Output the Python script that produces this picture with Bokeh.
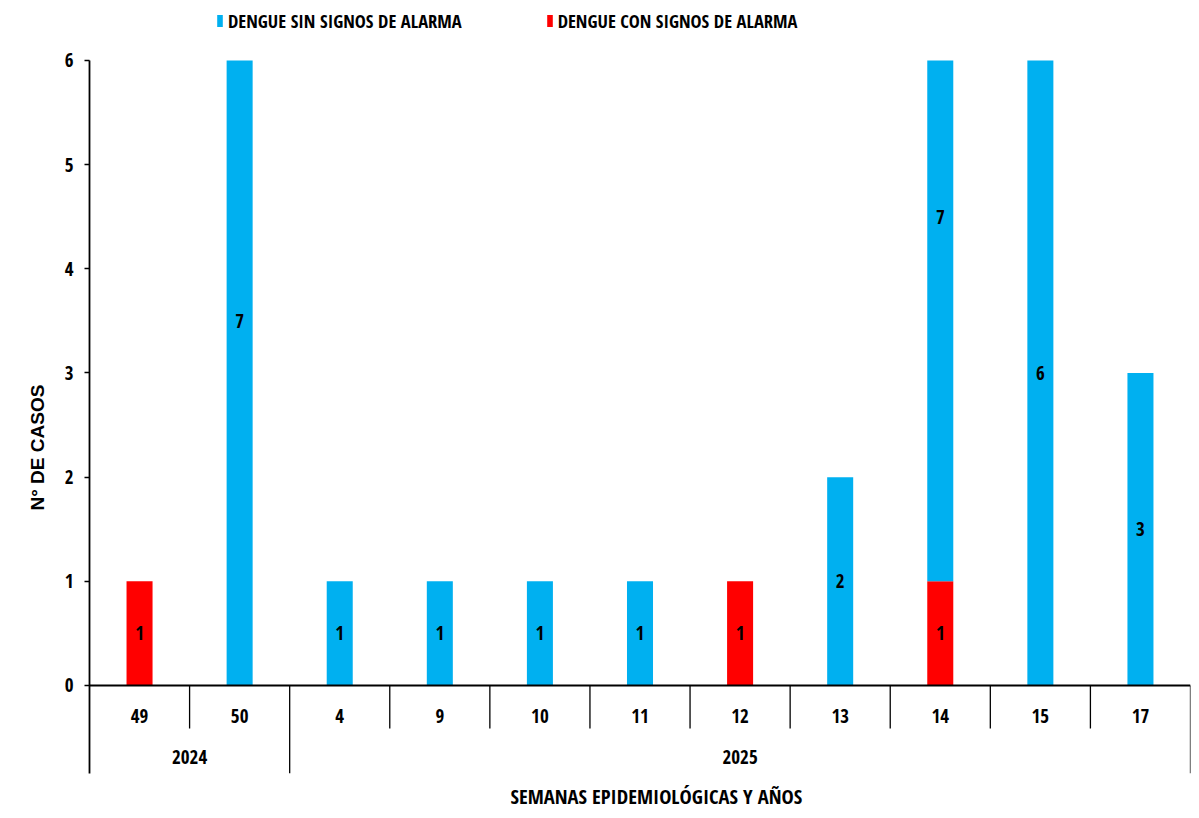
from bokeh.plotting import figure
from bokeh.models import (Range1d, FixedTicker, Legend, LegendItem, ColumnDataSource, Title)
from bokeh.core.properties import value
from bokeh.embed import file_html
from bokeh.resources import INLINE

# ---- data ----
weeks = ["49", "50", "4", "9", "10", "11", "12", "13", "14", "15", "17"]
years = ["2024", "2024", "2025", "2025", "2025", "2025", "2025", "2025", "2025", "2025", "2025"]
sin_signos = [0, 7, 1, 1, 1, 1, 0, 2, 7, 6, 3]   # DENGUE SIN SIGNOS DE ALARMA
con_signos = [1, 0, 0, 0, 0, 0, 1, 0, 1, 0, 0]   # DENGUE CON SIGNOS DE ALARMA
y_ticks = [0, 1, 2, 3, 4, 5, 6]
Y_MAX = 6   # axis maximum (bars are cut at it, as in the original)

BLUE = "#00B0F0"
RED = "#FF0000"
FONT = "Open Sans Condensed"

n = len(weeks)
x = [i + 0.5 for i in range(n)]

WEEK_ROW = -0.29
YEAR_ROW = -0.69
SHORT = -0.413
LONG = -0.845
HEADROOM = 6.528   # room above the axis for the legend

p = figure(width=1196, height=816, output_backend="svg", toolbar_location=None,
           x_range=Range1d(0, n), y_range=Range1d(LONG, HEADROOM),
           min_border_left=89, min_border_right=6, min_border_top=5, min_border_bottom=43)
p.outline_line_color = None
p.xgrid.visible = False
p.ygrid.visible = False

tops = [min(c + s, Y_MAX) for c, s in zip(con_signos, sin_signos)]
src = ColumnDataSource(dict(x=x, con=[min(c, Y_MAX) for c in con_signos],
                            base=list(con_signos), top=tops))
r_con = p.vbar(x="x", bottom=0, top="con", width=0.26, source=src,
               fill_color=RED, line_color=None)
r_sin = p.vbar(x="x", bottom="base", top="top", width=0.26, source=src,
               fill_color=BLUE, line_color=None)

# data labels (centre of each full segment)
lx, ly, lt = [], [], []
for i in range(n):
    if con_signos[i]:
        lx.append(x[i]); ly.append(con_signos[i] / 2); lt.append(str(con_signos[i]))
    if sin_signos[i]:
        lx.append(x[i]); ly.append(con_signos[i] + sin_signos[i] / 2); lt.append(str(sin_signos[i]))
p.text(x=lx, y=ly, text=lt, text_align="center", text_baseline="middle",
       text_font=value(FONT), text_font_style="bold", text_font_size="19px", text_color="black")

# baseline
p.segment(x0=[0], x1=[n], y0=[0], y1=[0], line_color="black", line_width=1.8)

# category table separators
sx0, sy0, sy1 = [], [], []
for i in range(1, n + 1):
    if i == n or years[i] != years[i - 1]:
        bottom = LONG
    else:
        bottom = SHORT
    sx0.append(i); sy0.append(0); sy1.append(bottom)
p.segment(x0=sx0, x1=sx0, y0=sy0, y1=sy1, line_color="black", line_width=1.3)

# week labels
p.text(x=x, y=[WEEK_ROW] * n, text=weeks, text_align="center", text_baseline="middle",
       text_font=value(FONT), text_font_style="bold", text_font_size="19px", text_color="black")

# year labels
yx, yt = [], []
start = 0
for i in range(1, n + 1):
    if i == n or years[i] != years[start]:
        yx.append((start + i) / 2); yt.append(years[start]); start = i
p.text(x=yx, y=[YEAR_ROW] * len(yx), text=yt, text_align="center", text_baseline="middle",
       text_font=value(FONT), text_font_style="bold", text_font_size="19px", text_color="black")

# axes
p.yaxis.ticker = FixedTicker(ticks=y_ticks)
p.yaxis.bounds = (LONG, Y_MAX)
p.yaxis.minor_tick_line_color = None
p.yaxis.axis_line_width = 1.8
p.yaxis.major_tick_line_width = 1.5
p.yaxis.major_tick_out = 5
p.yaxis.major_tick_in = 0
p.yaxis.major_label_standoff = 11
p.yaxis.major_label_text_font = FONT
p.yaxis.major_label_text_font_style = "bold"
p.yaxis.major_label_text_font_size = "19px"
p.yaxis.major_label_text_color = "black"

p.add_layout(Title(text="N°  DE CASOS", align="left", offset=263, standoff=28,
                   text_font="Liberation Sans", text_font_style="bold",
                   text_font_size="19px", text_color="black"), "left")

p.xaxis.visible = False
p.add_layout(Title(text="SEMANAS  EPIDEMIOLÓGICAS  Y AÑOS", align="left", offset=421,
                   standoff=12, text_font=FONT, text_font_style="bold",
                   text_font_size="20.5px", text_color="black"), "below")

legend = Legend(items=[LegendItem(label="DENGUE SIN SIGNOS DE ALARMA", renderers=[r_sin]),
                       LegendItem(label="DENGUE CON SIGNOS DE ALARMA", renderers=[r_con])],
                orientation="horizontal", location=(127, 740),
                glyph_width=7, glyph_height=15, label_standoff=5, spacing=84,
                padding=0, margin=0, border_line_color=None, background_fill_alpha=0,
                label_text_font=FONT, label_text_font_style="bold",
                label_text_font_size="18.5px", label_text_color="black")
p.add_layout(legend, "center")

open("out.html", "w").write(file_html(p, INLINE))
